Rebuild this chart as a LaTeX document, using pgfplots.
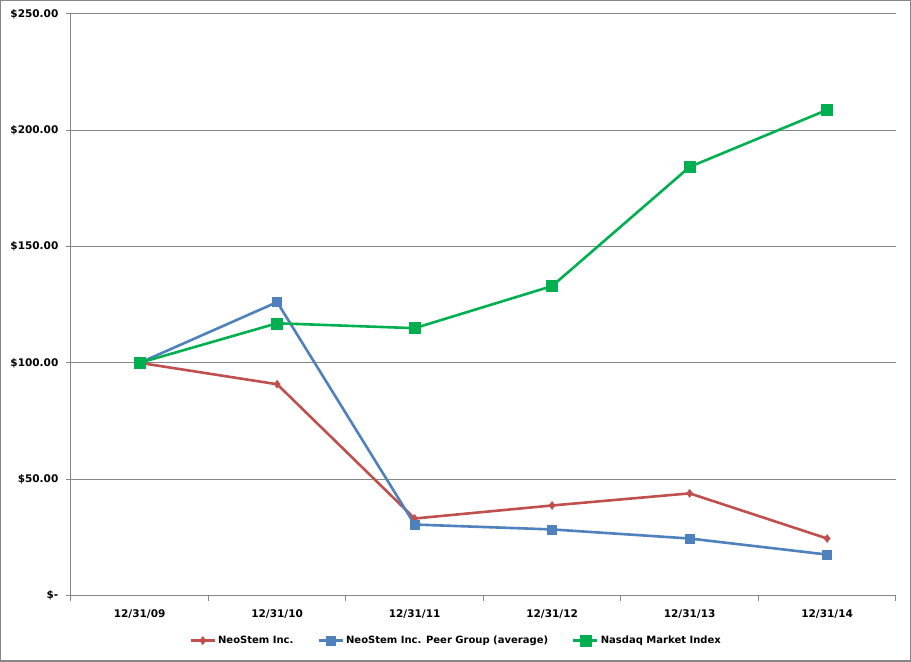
\documentclass[border=0pt]{standalone}
\usepackage{pgfplots}
\pgfplotsset{compat=1.18}
\usepackage{fontspec}
\setmainfont{DejaVu Sans}
\definecolor{neored}{HTML}{C0504D}
\definecolor{peerblue}{HTML}{4F81BD}
\definecolor{nasgreen}{HTML}{00B050}
\definecolor{gridgray}{HTML}{868686}
\begin{document}
\begin{tikzpicture}[x=1pt,y=1pt]
\draw[gridgray, line width=1.2pt, fill=white] (0.8,1.5) rectangle (909.5,661.2);
\begin{axis}[
  at={(71pt,67pt)}, anchor=south west,
  scale only axis, width=824pt, height=581pt,
  xmin=-0.5, xmax=5.5, ymin=0, ymax=250,
  xtick={0,1,2,3,4,5},
  xticklabels={12/31/09,12/31/10,12/31/11,12/31/12,12/31/13,12/31/14},
  minor xtick={-0.5,0.5,1.5,2.5,3.5,4.5,5.5},
  major x tick style={draw=none},
  minor tick length=5pt,
  ytick={0,50,100,150,200,250},
  yticklabels={\$-,\$50.00,\$100.00,\$150.00,\$200.00,\$250.00},
  major tick length=5pt,
  tick align=outside,
  tick style={gridgray, line width=0.8pt},
  ymajorgrids, grid style={gridgray, line width=0.8pt},
  axis x line*=bottom, axis y line*=left,
  axis line style={gridgray, line width=0.8pt, -},
  ticklabel style={font=\fontsize{10.5}{12}\selectfont\bfseries},
  xticklabel style={yshift=-6pt},
  yticklabel style={xshift=-4pt},
  legend style={at={(0.467,-0.0775)}, anchor=center, draw=none, fill=none,
    font=\fontsize{10}{12}\selectfont\bfseries, legend columns=3,
    /tikz/every even column/.style={column sep=22pt}},
  legend image code/.code={\draw[#1] (0pt,0pt) -- (24pt,0pt); \draw[#1, only marks] plot coordinates {(12pt,0pt)};},
]
\addplot[neored, line width=2.6pt, mark=diamond*, mark size=4pt, mark options={line width=0.5pt}] coordinates {
(0,100) (1,90.8) (2,33.1) (3,38.7) (4,43.9) (5,24.5)};
\addlegendentry{NeoStem Inc.}
\addplot[peerblue, line width=2.6pt, mark=square*, mark size=4.5pt, mark options={line width=0.5pt}] coordinates {
(0,100) (1,126.1) (2,30.5) (3,28.4) (4,24.5) (5,17.6)};
\addlegendentry{NeoStem Inc. Peer Group (average)}
\addplot[nasgreen, line width=2.6pt, mark=square*, mark size=5.5pt, mark options={line width=0.5pt}] coordinates {
(0,100) (1,117) (2,114.9) (3,133) (4,184.2) (5,208.7)};
\addlegendentry{Nasdaq Market Index}
\end{axis}
\end{tikzpicture}
\end{document}
